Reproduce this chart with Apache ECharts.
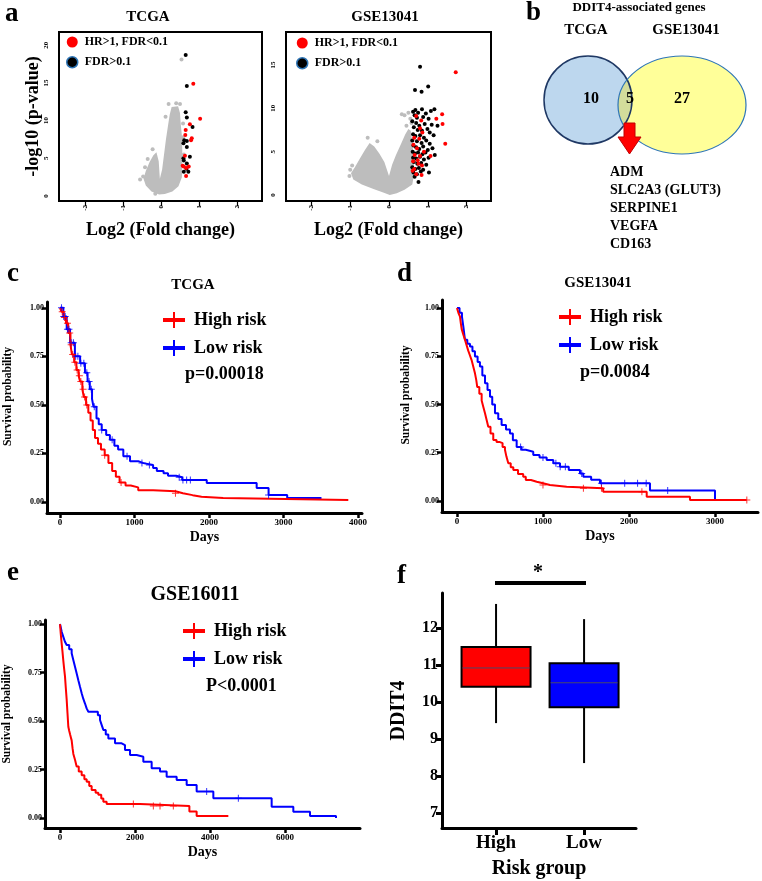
<!DOCTYPE html>
<html><head><meta charset="utf-8">
<script src="https://cdn.jsdelivr.net/npm/echarts@6/dist/echarts.min.js"></script>
<style>html,body{margin:0;padding:0;background:#fff}#c{width:762px;height:881px}</style>
</head><body><div id="c"></div>
<script>
const FONT = "'Liberation Serif','Times New Roman',Times,serif";

// ---------- Panel a : volcano plots ----------
const volcanoXTicks = [-2, -1, 0, 1, 2];
const tcgaVolYTicks = [0, 5, 10, 15, 20];
const gseVolYTicks = [0, 5, 10, 15];
const volcanoLegend = ['HR>1, FDR<0.1', 'FDR>0.1'];
// outline of the dense grey cloud of non-significant genes [log2FC, -log10 p]
const tcgaGrayCloud = [[-0.05,0.2],[-0.25,0.6],[-0.4,1.4],[-0.46,2.3],[-0.4,3.3],[-0.3,4.5],[-0.2,5.4],[-0.12,5.8],[-0.06,4.6],[-0.03,2.3],[0.03,3.5],[0.08,5.5],[0.13,7.5],[0.18,9.2],[0.23,10.8],[0.28,11.8],[0.45,11.9],[0.5,11.0],[0.52,9.5],[0.55,8.0],[0.56,6.0],[0.56,4.0],[0.55,2.5],[0.46,1.3],[0.3,0.6],[0.1,0.25]];
const tcgaGrayPts = [[0.54,18.1],[-0.47,2.6],[-0.55,2.2],[-0.35,4.9],[-0.22,6.2],[0.12,10.5],[0.2,12.2],[0.4,12.3],[0.58,9.6],[0.58,7.8],[-0.15,0.3],[0.5,12.2],[0.6,5.5],[-0.42,3.8]];
const tcgaBlack = [[0.65,18.7],[0.68,14.6],[0.65,11.1],[0.68,10.4],[0.83,9.15],[0.61,7.4],[0.68,7.3],[0.68,6.5],[0.59,7.0],[0.76,5.2],[0.59,5.0],[0.6,4.7],[0.68,4.3],[0.72,3.2],[0.6,3.2],[0.67,3.6]];
const tcgaRed = [[0.85,14.9],[1.03,10.25],[0.76,9.5],[0.65,8.75],[0.64,8.1],[0.81,7.65],[0.79,7.4],[0.63,5.35],[0.6,3.9],[0.66,3.7],[0.73,3.9],[0.66,2.65],[0.57,4.0]];
const gseGrayCloud = [[0.02,0.0],[-0.15,0.3],[-0.4,0.7],[-0.7,1.2],[-0.92,1.8],[-0.98,2.5],[-0.88,3.2],[-0.75,4.2],[-0.62,5.2],[-0.5,6.0],[-0.38,5.6],[-0.25,4.8],[-0.12,3.8],[0.0,2.2],[0.08,3.5],[0.18,4.6],[0.3,5.8],[0.42,7.0],[0.5,7.6],[0.56,7.4],[0.6,6.0],[0.64,4.0],[0.65,2.5],[0.6,1.2],[0.4,0.6],[0.2,0.2]];
const gseGrayPts = [[0.33,9.3],[0.4,9.2],[0.5,9.5],[-0.55,6.6],[-0.3,6.2],[-1.0,2.9],[-0.95,3.4],[0.58,8.3],[0.55,8.8],[-1.02,2.2],[0.45,8.0]];
const gseBlack = [[0.80,14.8],[0.67,12.1],[0.84,11.9],[1.01,12.5],
 [0.62,9.6],[0.68,9.8],[0.75,9.5],[0.85,9.9],[0.95,9.4],[1.08,9.7],[1.17,9.9],[0.66,9.2],[0.72,8.9],[0.88,9.0],[1.02,8.8],
 [0.60,8.5],[0.70,8.3],[0.78,8.0],[0.92,8.2],[1.10,8.1],[1.25,8.0],[0.64,7.8],[0.74,7.5],[0.85,7.4],[0.99,7.6],[1.05,7.2],
 [0.62,7.0],[0.68,6.8],[0.80,6.9],[0.90,6.6],[1.15,6.9],[0.60,6.3],[0.72,6.2],[0.84,6.0],[0.96,6.3],[1.05,5.9],
 [0.63,5.7],[0.70,5.5],[0.78,5.3],[0.88,5.6],[1.00,5.2],[1.12,5.4],[0.61,5.0],[0.67,4.8],[0.75,4.9],[0.86,4.7],[0.94,4.9],[1.18,4.6],
 [0.62,4.3],[0.70,4.2],[0.80,4.4],[0.90,4.1],[1.02,4.3],[0.64,3.8],[0.73,3.6],[0.83,3.7],[0.96,3.5],
 [0.60,3.2],[0.68,3.0],[0.77,3.1],[0.88,2.9],[0.63,2.6],[0.72,2.4],[0.82,2.7],[1.03,2.6],[0.66,2.1],[0.76,1.5]];
const gseRed = [[1.72,14.15],[1.45,5.9],[1.37,9.3],[1.38,8.2],[1.22,8.8],[0.70,9.1],[0.83,8.6],[0.80,7.7],[0.86,7.2],[0.65,6.6],[0.78,6.5],[0.63,5.8],[0.72,5.4],[0.90,5.0],[0.66,4.6],[0.80,4.5],[1.07,4.5],[0.62,3.9],[0.74,4.0],[0.85,3.4],[0.65,3.0],[0.70,2.4],[0.84,2.3],[0.61,2.8],[0.76,3.6]];

// ---------- Panel b : Venn ----------
const vennSets = ['TCGA', 'GSE13041'];
const vennCounts = [10, 5, 27];   // TCGA only, shared, GSE13041 only
const sharedGenes = ['ADM', 'SLC2A3 (GLUT3)', 'SERPINE1', 'VEGFA', 'CD163'];

// ---------- Panels c-e : Kaplan-Meier ----------
const kmGroups = ['High risk', 'Low risk'];
const kmYTicks = [0, 0.25, 0.5, 0.75, 1];
const tcgaDayTicks = [0, 1000, 2000, 3000, 4000];
const gse13DayTicks = [0, 1000, 2000, 3000];
const gse16DayTicks = [0, 2000, 4000, 6000];
const tcgaHigh = [[0,1],[20,0.98],[50,0.95],[80,0.92],[110,0.87],[140,0.81],[160,0.76],[190,0.72],[220,0.68],[250,0.65],[270,0.62],[300,0.58],[320,0.54],[350,0.5],[380,0.46],[410,0.42],[440,0.37],[470,0.33],[510,0.3],[550,0.27],[600,0.24],[650,0.2],[700,0.16],[750,0.13],[800,0.1],[880,0.085],[950,0.075],[1050,0.06],[1250,0.055],[1550,0.045],[1650,0.035],[1780,0.027],[1900,0.02],[2190,0.01],[3870,0.01]];
const tcgaLow = [[0,1],[45,0.955],[90,0.89],[135,0.82],[200,0.75],[270,0.715],[335,0.665],[370,0.62],[400,0.58],[430,0.53],[450,0.49],[490,0.43],[520,0.4],[560,0.37],[620,0.345],[670,0.32],[730,0.29],[780,0.27],[850,0.235],[940,0.21],[1050,0.2],[1120,0.19],[1250,0.175],[1300,0.16],[1390,0.148],[1450,0.135],[1560,0.127],[1640,0.113],[1970,0.098],[2640,0.072],[2800,0.036],[3050,0.02],[3510,0.02]];
const tcgaHighCensor = [30,60,100,130,150,170,200,230,260,280,310,330,360,600,820,1550];
const tcgaLowCensor = [20,50,70,100,120,150,180,210,240,280,320,360,390,420,460,560,700,900,1100,1200,1600,1650,1700,1750,2800];
const gse13High = [[0,1],[20,0.97],[35,0.955],[45,0.92],[55,0.89],[75,0.86],[93,0.835],[110,0.81],[130,0.78],[150,0.755],[170,0.73],[190,0.695],[210,0.66],[225,0.625],[236,0.59],[260,0.555],[287,0.52],[305,0.49],[326,0.455],[345,0.42],[364,0.385],[390,0.35],[422,0.316],[460,0.305],[500,0.3],[530,0.28],[558,0.265],[575,0.23],[597,0.195],[625,0.175],[655,0.16],[710,0.14],[770,0.126],[800,0.109],[860,0.1],[927,0.092],[1000,0.083],[1081,0.074],[1275,0.066],[1700,0.048],[2206,0.022],[2709,0.005],[3368,0.005]];
const gse13Low = [[0,1],[30,0.975],[58,0.955],[75,0.9],[93,0.835],[120,0.815],[151,0.8],[180,0.775],[209,0.748],[240,0.72],[267,0.696],[295,0.65],[326,0.61],[355,0.575],[384,0.54],[410,0.5],[442,0.455],[480,0.425],[519,0.394],[570,0.37],[616,0.35],[650,0.315],[694,0.28],[750,0.265],[800,0.255],[887,0.238],[960,0.225],[1043,0.212],[1120,0.195],[1198,0.178],[1300,0.161],[1430,0.143],[1469,0.126],[1560,0.11],[1663,0.092],[2244,0.054],[3000,0]];
const gse13HighCensor = [1000,1470,1680,2150,3370];
const gse13LowCensor = [740,1000,1150,1200,1260,1450,1680,1950,2100,2200,2450];
const gse16High = [[0,1],[20,0.95],[44,0.9],[65,0.86],[89,0.81],[110,0.77],[133,0.73],[155,0.67],[178,0.61],[200,0.54],[222,0.47],[245,0.45],[270,0.43],[290,0.415],[311,0.4],[335,0.36],[356,0.33],[400,0.3],[444,0.265],[500,0.24],[578,0.22],[650,0.2],[711,0.187],[780,0.165],[844,0.144],[950,0.13],[1022,0.119],[1100,0.1],[1156,0.084],[1244,0.072],[2133,0.062],[3450,0.033],[3644,0.01],[4489,0.01]];
const gse16Low = [[0,1],[45,0.96],[89,0.934],[130,0.91],[178,0.892],[245,0.87],[311,0.85],[355,0.815],[400,0.78],[445,0.745],[489,0.71],[535,0.675],[578,0.643],[620,0.615],[667,0.59],[710,0.565],[756,0.548],[1010,0.53],[1067,0.505],[1110,0.48],[1156,0.454],[1220,0.43],[1289,0.41],[1467,0.385],[1644,0.376],[1733,0.35],[1867,0.325],[2044,0.316],[2222,0.29],[2444,0.256],[2667,0.24],[2844,0.213],[3111,0.196],[3378,0.17],[3644,0.136],[4089,0.101],[5644,0.058],[6222,0.032],[6667,0.01],[7360,0]];
const gse16HighCensor = [1956,2489,2667,3022];
const gse16LowCensor = [3911,4756];

// ---------- Panel f : boxplot ----------
const boxCats = ['High', 'Low'];
const boxStats = [[9.43,10.41,10.92,11.49,12.65],[8.35,9.86,10.52,11.05,12.24]]; // min,q1,median,q3,max
const boxYTicks = [7, 8, 9, 10, 11, 12];
const boxColors = ['#FF0000', '#0000FF'];

// ================= helpers =================
const chart = echarts.init(document.getElementById('c'), null, {renderer: 'canvas', width: 762, height: 881});
const ts = (size, extra) => Object.assign({fontFamily: FONT, fontWeight: 'bold', fontSize: size, color: '#000'}, extra || {});
function survAt(curve, d) { let v = curve[0][1]; for (const p of curve) { if (p[0] <= d) v = p[1]; else break; } return v; }
function txt(text, x, y, size, align, extra) {
  return {type: 'text', x: x, y: y, z: 100, style: Object.assign({text: text, font: 'bold ' + size + 'px ' + FONT, fill: '#000', textAlign: align || 'center', textVerticalAlign: 'middle'}, extra || {})};
}
const PLUS_ICON = 'path://M0,6H10V0H12V6H22V10H12V16H10V10H0Z';
const CENSOR = 'path://M3,0H4V3H7V4H4V7H3V4H0V3H3Z';
const plain = v => String(v);

function volAxes(gi, xmin, xmax, ymin, ymax, yTicks, yName) {
  const x = {gridIndex: gi, type: 'value', min: xmin, max: xmax, splitLine: {show: false}, axisLine: {show: false, onZero: false},
    axisTick: {customValues: volcanoXTicks, length: 5, lineStyle: {color: '#000', width: 1.2}},
    axisLabel: {customValues: volcanoXTicks, rotate: 90, margin: 4, formatter: plain, ...ts(7)},
    name: 'Log2 (Fold change)', nameLocation: 'middle', nameGap: 20, nameTextStyle: ts(18)};
  const y = {gridIndex: gi, type: 'value', min: ymin, max: ymax, offset: 4, splitLine: {show: false}, axisLine: {show: false, onZero: false},
    axisTick: {show: false},
    axisLabel: {customValues: yTicks, rotate: 90, margin: 5, formatter: plain, ...ts(7)}};
  if (yName) Object.assign(y, {name: yName, nameLocation: 'middle', nameGap: 12, nameRotate: 90, nameTextStyle: ts(18)});
  return [x, y];
}
function kmAxes(gi, xmin, xmax, xTicks, ymin, ymax, yGap, yPad) {
  const x = {gridIndex: gi, type: 'value', min: xmin, max: xmax, splitLine: {show: false},
    axisLine: {onZero: false, lineStyle: {color: '#000', width: 3}},
    axisTick: {customValues: xTicks, length: 5, lineStyle: {color: '#000', width: 2.5}},
    axisLabel: {customValues: xTicks, margin: 5, formatter: plain, ...ts(9)},
    name: 'Days', nameLocation: 'middle', nameGap: 17, nameTextStyle: ts(14)};
  const y = {gridIndex: gi, type: 'value', min: ymin, max: ymax, splitLine: {show: false},
    axisLine: {onZero: false, lineStyle: {color: '#000', width: 3}},
    axisTick: {customValues: kmYTicks, length: 5, lineStyle: {color: '#000', width: 2.5}},
    axisLabel: {customValues: kmYTicks, margin: 3, formatter: v => v.toFixed(2), ...ts(8)},
    name: 'Survival probability', nameLocation: 'middle', nameRotate: 90, nameGap: yGap, nameTextStyle: ts(11.5, {padding: [0, 0, 0, yPad]})};
  return [x, y];
}
function polySeries(gi, poly) {
  return {type: 'custom', xAxisIndex: gi, yAxisIndex: gi, data: poly, z: 1, silent: true,
    renderItem: (params, api) => params.dataIndex !== 0 ? null :
      {type: 'polygon', shape: {points: poly.map(p => api.coord(p))}, style: {fill: '#BDBDBD'}}};
}
function scat(gi, name, data, color, size, z) {
  return {type: 'scatter', name: name, xAxisIndex: gi, yAxisIndex: gi, data: data, symbolSize: size, z: z, itemStyle: {color: color, opacity: 1}, silent: true};
}
function kmSeries(gi, curve, censor, name, color) {
  return [
    {type: 'line', name: name, xAxisIndex: gi, yAxisIndex: gi, data: curve, step: 'end', showSymbol: false, symbol: 'none',
      lineStyle: {color: color, width: 2}, itemStyle: {color: color}, z: 3, silent: true},
    {type: 'scatter', name: name + ' censored', xAxisIndex: gi, yAxisIndex: gi, data: censor.map(d => [d, survAt(curve, d)]),
      symbol: CENSOR, symbolSize: 7, itemStyle: {color: color}, z: 4, silent: true}
  ];
}
function kmLegend(left, top) {
  return {left: left, top: top, orient: 'vertical', padding: 0, itemWidth: 22, itemHeight: 16, itemGap: 10, selectedMode: false,
    data: kmGroups.map(n => ({name: n, icon: PLUS_ICON})), textStyle: ts(18, {padding: [0, 0, 0, 4]})};
}
function volLegend(left, top) {
  return {left: left, top: top, orient: 'vertical', padding: 0, itemWidth: 11, itemHeight: 11, itemGap: 8, selectedMode: false,
    data: [{name: volcanoLegend[0], icon: 'circle', itemStyle: {color: '#FF0000'}},
           {name: volcanoLegend[1], icon: 'circle', itemStyle: {color: '#000', borderColor: '#2E75B6', borderWidth: 1.5}}],
    textStyle: ts(12, {padding: [0, 0, 0, 2]})};
}

// ---- axes ----
const [vx0, vy0] = volAxes(0, -2.684, 2.658, -0.663, 21.75, tcgaVolYTicks, '-log10 (p-value)');
const [vx1, vy1] = volAxes(1, -2.655, 2.629, -0.692, 18.8, gseVolYTicks, null);
const [kx2, ky2] = kmAxes(2, -174.5, 4054, tcgaDayTicks, -0.057, 1.03, 33, 22);
const [kx3, ky3] = kmAxes(3, -174, 3500, gse13DayTicks, -0.057, 1.041, 30, 22);
const [kx4, ky4] = kmAxes(4, -400, 8000, gse16DayTicks, -0.052, 1.021, 32, 20);
const bx = {gridIndex: 5, type: 'value', min: -0.614, max: 1.59, splitLine: {show: false},
  axisLine: {onZero: false, lineStyle: {color: '#000', width: 3}},
  axisTick: {customValues: [0, 1], length: 7, lineStyle: {color: '#000', width: 3}},
  axisLabel: {customValues: [0, 1], formatter: v => boxCats[Math.round(v)], margin: 6, ...ts(19)},
  name: 'Risk group', nameLocation: 'middle', nameGap: 31, nameTextStyle: ts(20)};
const by = {gridIndex: 5, type: 'value', min: 6.595, max: 12.946, splitLine: {show: false},
  axisLine: {onZero: false, lineStyle: {color: '#000', width: 3}},
  axisTick: {customValues: boxYTicks, length: 6, lineStyle: {color: '#000', width: 3}},
  axisLabel: {customValues: boxYTicks, margin: 4, formatter: plain, ...ts(16)},
  name: 'DDIT4', nameLocation: 'middle', nameRotate: 90, nameGap: 33, nameTextStyle: ts(20)};

// ---- Venn geometry (layout) ----
const C1 = {cx: 588, cy: 100, r: 44}, E2 = {cx: 682, cy: 105, rx: 64, ry: 49};
const lens = [];
for (let k = 0; k <= 720; k++) { const t = -Math.PI + k * Math.PI / 360; const x = C1.cx + C1.r * Math.cos(t), y = C1.cy + C1.r * Math.sin(t);
  if (((x - E2.cx) / E2.rx) ** 2 + ((y - E2.cy) / E2.ry) ** 2 <= 1) lens.push([x, y]); }
for (let k = 0; k <= 720; k++) { const t = k * Math.PI / 360; const x = E2.cx + E2.rx * Math.cos(t), y = E2.cy + E2.ry * Math.sin(t);
  if ((x - C1.cx) ** 2 + (y - C1.cy) ** 2 <= C1.r * C1.r) lens.push([x, y]); }

const graphic = [
  txt('a', 5, 14, 27, 'left'), txt('b', 526, 13, 27, 'left'), txt('c', 7, 274, 27, 'left'),
  txt('d', 397, 274, 27, 'left'), txt('e', 7, 573, 27, 'left'), txt('f', 397, 576, 27, 'left'),
  txt('TCGA', 148, 17, 15), txt('GSE13041', 385, 17, 15),
  {type: 'circle', shape: {cx: C1.cx, cy: C1.cy, r: C1.r}, style: {fill: '#BDD7EE'}, z: 10},
  {type: 'ellipse', shape: {cx: E2.cx, cy: E2.cy, rx: E2.rx, ry: E2.ry}, style: {fill: '#FFFF99'}, z: 10},
  {type: 'polygon', shape: {points: lens}, style: {fill: '#D3DC9B'}, z: 11},
  {type: 'circle', shape: {cx: C1.cx, cy: C1.cy, r: C1.r}, style: {fill: null, stroke: '#1F3864', lineWidth: 1.5}, z: 12},
  {type: 'ellipse', shape: {cx: E2.cx, cy: E2.cy, rx: E2.rx, ry: E2.ry}, style: {fill: null, stroke: '#2E75B6', lineWidth: 1.2}, z: 12},
  {type: 'polygon', shape: {points: [[624,123],[635,123],[635,137],[641,137],[629.5,154],[618,137],[624,137]]}, style: {fill: '#FF0000', stroke: '#C00000', lineWidth: 1}, z: 13},
  txt('DDIT4-associated genes', 639, 8, 13),
  txt(vennSets[0], 586, 30, 15), txt(vennSets[1], 686, 30, 15),
  txt(String(vennCounts[0]), 591, 99, 16), txt(String(vennCounts[1]), 630, 99, 16), txt(String(vennCounts[2]), 682, 99, 16),
  ...sharedGenes.map((g, i) => txt(g, 610, 172 + i * 18, 14, 'left')),
  txt('TCGA', 193, 285, 15), txt('p=0.00018', 185, 374, 18, 'left'),
  txt('GSE13041', 598, 283, 15), txt('p=0.0084', 580, 372, 18, 'left'),
  txt('GSE16011', 195, 595, 20), txt('P<0.0001', 206, 686, 18, 'left'),
  {type: 'line', shape: {x1: 495, y1: 583, x2: 586, y2: 583}, style: {stroke: '#000', lineWidth: 4}, z: 100},
  txt('*', 538, 573, 20)
];

const boxSeries = {
  type: 'custom', xAxisIndex: 5, yAxisIndex: 5, silent: true, z: 3,
  data: boxStats.map((s, i) => [i].concat(s)),
  encode: {x: 0, y: [1, 2, 3, 4, 5]},
  renderItem: (params, api) => {
    const i = api.value(0);
    const pMin = api.coord([i, api.value(1)]), pQ1 = api.coord([i, api.value(2)]), pMd = api.coord([i, api.value(3)]),
          pQ3 = api.coord([i, api.value(4)]), pMax = api.coord([i, api.value(5)]);
    const w = 69, cx = pMin[0];
    return {type: 'group', children: [
      {type: 'line', shape: {x1: cx, y1: pMax[1], x2: cx, y2: pQ3[1]}, style: {stroke: '#000', lineWidth: 2}},
      {type: 'line', shape: {x1: cx, y1: pQ1[1], x2: cx, y2: pMin[1]}, style: {stroke: '#000', lineWidth: 2}},
      {type: 'rect', shape: {x: cx - w / 2, y: pQ3[1], width: w, height: pQ1[1] - pQ3[1]}, style: {fill: boxColors[i], stroke: '#000', lineWidth: 2}},
      {type: 'line', shape: {x1: cx - w / 2 + 1, y1: pMd[1], x2: cx + w / 2 - 1, y2: pMd[1]}, style: {stroke: '#4A4A6A', lineWidth: 1}}
    ]};
  }
};

const option = {
  backgroundColor: '#fff',
  animation: false,
  textStyle: {fontFamily: FONT},
  grid: [
    {left: 59, top: 32, width: 203, height: 169, show: true, borderColor: '#000', borderWidth: 2, backgroundColor: 'transparent'},
    {left: 286, top: 32, width: 205, height: 169, show: true, borderColor: '#000', borderWidth: 2, backgroundColor: 'transparent'},
    {left: 47, top: 302, width: 315, height: 211},
    {left: 442, top: 300, width: 316, height: 212},
    {left: 45, top: 620, width: 315, height: 208},
    {left: 442, top: 593, width: 194, height: 235}
  ],
  xAxis: [vx0, vx1, kx2, kx3, kx4, bx],
  yAxis: [vy0, vy1, ky2, ky3, ky4, by],
  legend: [volLegend(66, 36), volLegend(296, 37), kmLegend(163, 311), kmLegend(559, 308), kmLegend(183, 622)],
  series: [
    polySeries(0, tcgaGrayCloud), scat(0, 'other', tcgaGrayPts, '#BDBDBD', 4, 2),
    scat(0, volcanoLegend[1], tcgaBlack, '#000', 4, 3), scat(0, volcanoLegend[0], tcgaRed, '#FF0000', 4, 4),
    polySeries(1, gseGrayCloud), scat(1, 'other', gseGrayPts, '#BDBDBD', 4, 2),
    scat(1, volcanoLegend[1], gseBlack, '#000', 4, 3), scat(1, volcanoLegend[0], gseRed, '#FF0000', 4, 4),
    ...kmSeries(2, tcgaLow, tcgaLowCensor, kmGroups[1], '#0000FF'),
    ...kmSeries(2, tcgaHigh, tcgaHighCensor, kmGroups[0], '#FF0000'),
    ...kmSeries(3, gse13Low, gse13LowCensor, kmGroups[1], '#0000FF'),
    ...kmSeries(3, gse13High, gse13HighCensor, kmGroups[0], '#FF0000'),
    ...kmSeries(4, gse16Low, gse16LowCensor, kmGroups[1], '#0000FF'),
    ...kmSeries(4, gse16High, gse16HighCensor, kmGroups[0], '#FF0000'),
    boxSeries
  ],
  graphic: graphic
};
chart.setOption(option);
</script></body></html>
